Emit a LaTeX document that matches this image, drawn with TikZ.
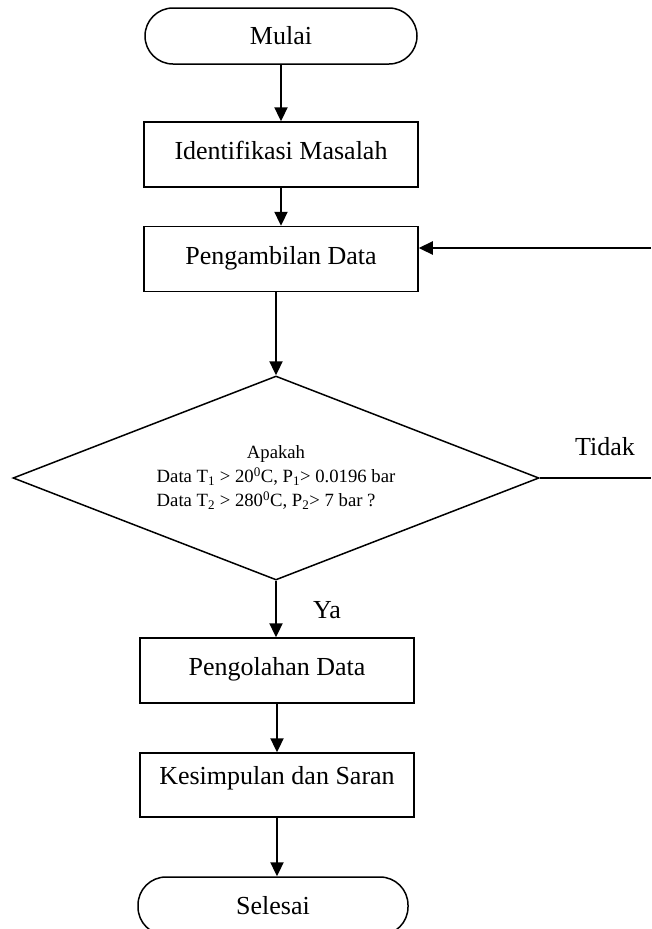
\documentclass[tikz,border=0pt]{standalone}
\usepackage{fontspec}
\setmainfont{Liberation Serif}
\usetikzlibrary{shapes.geometric,arrows.meta}

\tikzset{
  proses/.style={draw, line width=1.5pt, minimum width=274pt, minimum height=65pt, inner sep=0pt,
    font=\fontsize{26}{30}\selectfont, text height=18pt, text depth=8pt},
  terminal/.style={draw, line width=1.5pt, rounded corners=28pt, minimum width=272pt, minimum height=56pt,
    inner sep=0pt, font=\fontsize{26}{30}\selectfont},
  keputusan/.style={draw, diamond, line width=1.5pt, minimum width=526pt, minimum height=204pt,
    inner sep=0pt, aspect=2.6, font=\fontsize{18.7}{24}\selectfont},
  ket/.style={inner sep=0pt, font=\fontsize{26}{30}\selectfont},
  panah/.style={line width=2.3pt, -{Triangle[length=14pt,width=13pt]}}
}

\begin{document}
\begin{tikzpicture}[x=1pt,y=-1pt]
\useasboundingbox (0,0) rectangle (651,929);
\clip (0,0) rectangle (651,929);

%draw start, process boxes and end
\node[terminal] (mulai) at (281,36) {Mulai};
\node[proses] (identifikasi) at (281,154.5) {Identifikasi Masalah};
\node[proses] (pengambilan) at (281,259) {Pengambilan Data};
\node[keputusan] (cek) at (276,478) {\begin{tabular}{@{}l@{}}
  \multicolumn{1}{@{}c@{}}{Apakah}\\
  Data T\textsubscript{1} > 20\textsuperscript{0}C, P\textsubscript{1}> 0.0196 bar\\
  Data T\textsubscript{2} > 280\textsuperscript{0}C, P\textsubscript{2}> 7 bar ?
\end{tabular}};
\node[proses] (pengolahan) at (277,670.5) {Pengolahan Data};
\node[proses, minimum height=64pt, text depth=19pt] (kesimpulan) at (277,785) {Kesimpulan dan Saran};
\node[terminal, minimum width=270pt, minimum height=58pt] (selesai) at (273,906) {Selesai};

%draw labels
\node[ket] (tidak) at (605,447) {Tidak};
\node[ket] (ya) at (327,610) {Ya};

%draw arrows
\draw[panah] (mulai.south) -- (identifikasi.north);
\draw[panah] (identifikasi) -- (pengambilan);
\draw[panah] (pengambilan.south -| cek.north) -- (cek.north);
\draw[panah] (cek.south) -- (cek.south |- pengolahan.north);
\draw[panah] (pengolahan.south) -- (kesimpulan.north);
\draw[panah] (kesimpulan.south) -- (kesimpulan.south |- selesai.north);

%draw tidak branch
\coordinate (kanan) at (651,478);
\coordinate (balik) at (651,248);
\draw[line width=1.8pt] (cek.east) -- (kanan);
\draw[panah] (balik) -- (balik -| pengambilan.east);
\end{tikzpicture}
\end{document}
